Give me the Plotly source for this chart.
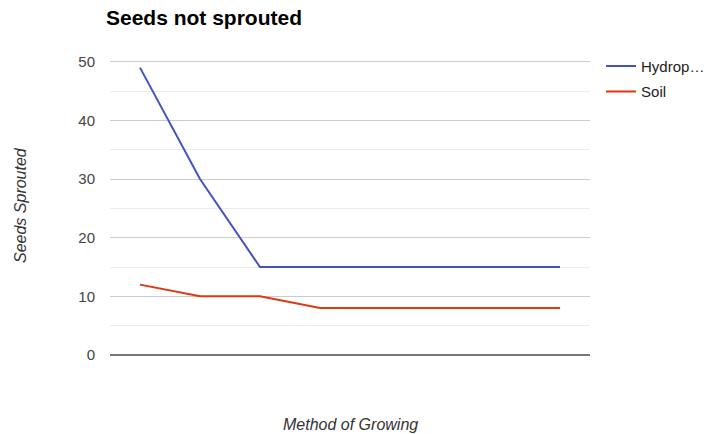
import plotly.graph_objects as go

categories = ["1", "2", "3", "4", "5", "6", "7", "8"]
hydro = [49, 30, 15, 15, 15, 15, 15, 15]
soil = [12, 10, 10, 8, 8, 8, 8, 8]
series_names = ["Hydrop…", "Soil"]
y_ticks = [0, 10, 20, 30, 40, 50]

fig = go.Figure()
fig.add_trace(go.Scatter(x=list(range(len(categories))), y=hydro, mode="lines",
                         name=series_names[0], legendgroup="a",
                         line=dict(color="#4254c4", width=2)))
fig.add_trace(go.Scatter(x=list(range(len(categories))), y=soil, mode="lines",
                         name=series_names[1], legendgroup="b",
                         line=dict(color="#dc3912", width=2)))

fig.update_layout(
    width=722, height=434,
    margin=dict(l=110, r=132, t=60, b=79, autoexpand=False),
    paper_bgcolor="white", plot_bgcolor="white",
    font=dict(family="Liberation Sans, Arial, sans-serif", color="#444444", size=15),
    title=dict(text="<b>Seeds not sprouted</b>", x=106/722, xanchor="left", y=1 - 18/434, yanchor="middle",
               font=dict(size=21, color="#000000")),
    showlegend=True,
    legend=dict(x=1.023, y=1.035, xanchor="left", yanchor="top", font=dict(size=15, color="#222222"),
                bgcolor="rgba(0,0,0,0)", tracegroupgap=3),
    xaxis=dict(range=[-0.5, len(categories) - 0.5], showticklabels=False, showgrid=False,
               zeroline=False, showline=False),
    yaxis=dict(range=[0, 50.3], tickvals=y_ticks, showgrid=True, gridcolor="#cccccc", gridwidth=1,
               minor=dict(dtick=5, showgrid=True, gridcolor="#ececec", gridwidth=1),
               zeroline=True, zerolinecolor="#777777", zerolinewidth=2,
               ticklabelstandoff=14, tickfont=dict(size=15, color="#444444")),
    annotations=[
        dict(text="<i>Method of Growing</i>", xref="paper", yref="paper", x=0.5, y=-69/295,
             xanchor="center", yanchor="middle", showarrow=False, font=dict(size=16, color="#333333")),
        dict(text="<i>Seeds Sprouted</i>", xref="paper", yref="paper", x=-90/480, y=(355-205)/295,
             xanchor="center", yanchor="middle", textangle=-90, showarrow=False,
             font=dict(size=16, color="#333333")),
    ],
)

fig.write_html("out.html")
